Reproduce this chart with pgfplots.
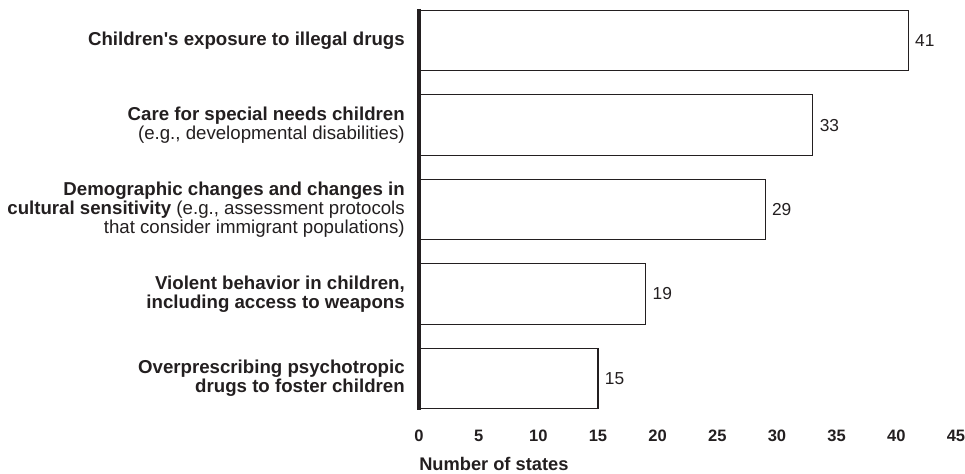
\documentclass[border=0pt]{standalone}
\usepackage{pgfplots}
\pgfplotsset{compat=1.18}
\usepackage{fontspec}
\setmainfont{Liberation Sans}
\definecolor{ink}{HTML}{231F20}
\pgfplotstableread{
y val
0 41
1 33
2 29
3 19
4 15
}\datatable
\begin{document}
\begin{tikzpicture}
\useasboundingbox (-314.25pt,-48pt) rectangle (409.5pt,307.5pt);
\begin{axis}[
  scale only axis,
  width=402.75pt, height=300.75pt,
  xbar, bar width=45.4pt,
  xmin=0, xmax=45,
  ymin=-0.374, ymax=4.374,
  y dir=reverse,
  axis on top,
  axis x line*=bottom, axis y line*=left,
  x axis line style={draw=none},
  y axis line style={line width=3pt, color=ink},
  major tick length=0pt,
  xtick={0,5,...,45},
  ytick={0,1,2,3,4},
  /pgf/number format/assume math mode=true,
  xticklabel style={font=\fontsize{12.4}{14}\selectfont\bfseries, color=ink, anchor=center, yshift=-19.5pt},
  yticklabel style={font=\fontsize{14}{14.3}\selectfont, color=ink, align=right, anchor=east, inner sep=0pt, xshift=-10.5pt},
  yticklabels={
    {\textbf{Children\textquotesingle s exposure to illegal drugs}},
    {\textbf{Care for special needs children}\\(e.g., developmental disabilities)},
    {\textbf{Demographic changes and changes in}\\\textbf{cultural sensitivity} (e.g., assessment protocols\\that consider immigrant populations)},
    {\textbf{Violent behavior in children,}\\\textbf{including access to weapons}},
    {\textbf{Overprescribing psychotropic}\\\textbf{drugs to foster children}}
  },
  xlabel={Number of states},
  xlabel style={font=\fontsize{13.7}{15}\selectfont\bfseries, color=ink, at={(axis description cs:0,0)}, anchor=west, inner sep=0pt, yshift=-40.5pt},
  nodes near coords,
  nodes near coords style={font=\fontsize{13}{15}\selectfont, color=ink, anchor=west, xshift=1.5pt},
  clip=false,
]
\addplot[draw=ink, fill=white, line width=0.8pt] table[x=val, y=y] {\datatable};
\end{axis}
\end{tikzpicture}
\end{document}
